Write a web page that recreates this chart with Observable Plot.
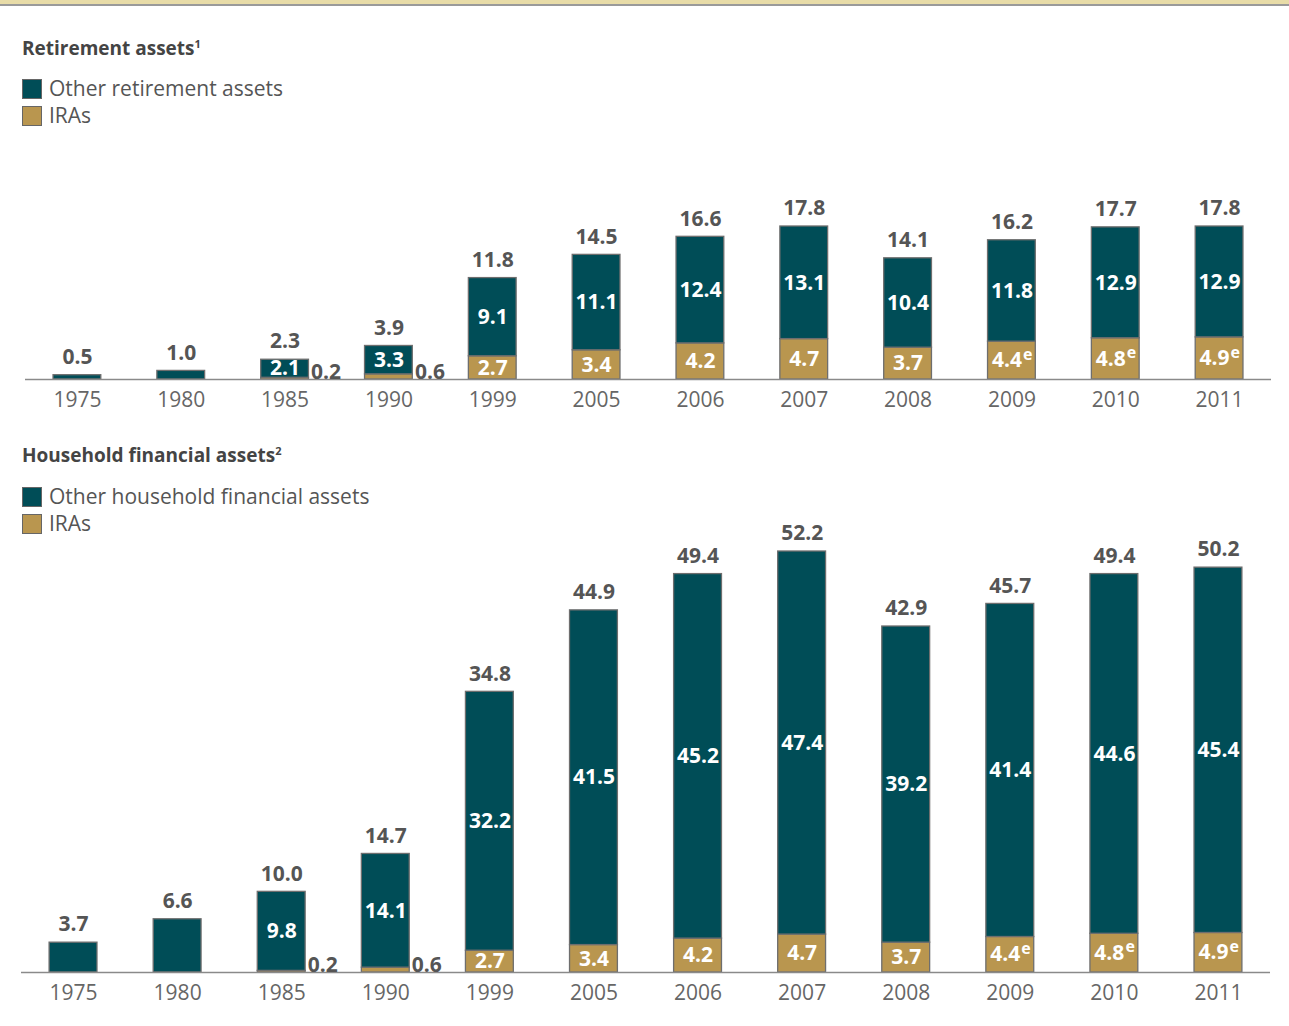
<!DOCTYPE html>
<html><head><meta charset="utf-8">
<script src="https://cdn.jsdelivr.net/npm/d3@7"></script>
<script src="https://cdn.jsdelivr.net/npm/@observablehq/plot@0.6"></script>
<style>
body{margin:0;background:#fff;font-family:"Open Sans",sans-serif;}
#wrap{position:relative;width:1289px;height:1026px;overflow:hidden;background:#fff}
.topbar{position:absolute;left:0;top:0;width:1289px;height:4px;background:#E8DCA8;border-bottom:2px solid #9a9a9a}
.title{position:absolute;left:22px;font-weight:700;font-size:19px;color:#444;line-height:24px}
.title sup{font-size:11px;vertical-align:7px;line-height:0}
.leg{position:absolute;left:22px;font-size:21px;color:#555;display:flex;align-items:center;height:27px;line-height:27px}
.sw{width:18px;height:18px;border:1px solid #666;margin-right:7px}
.chart{position:absolute;left:0}
</style></head>
<body><div id="wrap">
<div class="topbar"></div>
<div class="title" style="top:36px">Retirement assets<sup>1</sup></div>
<div class="leg" style="top:75px"><div class="sw" style="background:#004D57"></div>Other retirement assets</div>
<div class="leg" style="top:102px"><div class="sw" style="background:#B9964F"></div>IRAs</div>
<div class="chart" id="c1" style="top:180px"></div>
<div class="title" style="top:443px">Household financial assets<sup>2</sup></div>
<div class="leg" style="top:483px"><div class="sw" style="background:#004D57"></div>Other household financial assets</div>
<div class="leg" style="top:510px"><div class="sw" style="background:#B9964F"></div>IRAs</div>
<div class="chart" id="c2" style="top:500px"></div>
</div>
<script>
const years = ["1975","1980","1985","1990","1999","2005","2006","2007","2008","2009","2010","2011"];
const iras = [null, null, 0.2, 0.6, 2.7, 3.4, 4.2, 4.7, 3.7, 4.4, 4.8, 4.9];
const estimated = ["2009","2010","2011"];
const otherRetirement = [0.5, 1.0, 2.1, 3.3, 9.1, 11.1, 12.4, 13.1, 10.4, 11.8, 12.9, 12.9];
const totalRetirement = [0.5, 1.0, 2.3, 3.9, 11.8, 14.5, 16.6, 17.8, 14.1, 16.2, 17.7, 17.8];
const otherHousehold = [3.7, 6.6, 9.8, 14.1, 32.2, 41.5, 45.2, 47.4, 39.2, 41.4, 44.6, 45.4];
const totalHousehold = [3.7, 6.6, 10.0, 14.7, 34.8, 44.9, 49.4, 52.2, 42.9, 45.7, 49.4, 50.2];

const TEAL = "#004D57", GOLD = "#B9964F", EDGE = "#6e6e6e";
const FONT = "'Open Sans', sans-serif";

function chart(other, total, o) {
  const rows = years.map((y, i) => ({year: y, ira: iras[i] || 0, other: other[i], total: total[i], est: estimated.includes(y)}));
  const stacked = rows.filter(d => d.ira > 0);
  const big = stacked.filter(d => d.ira >= 1 && !d.est);
  const bigEst = stacked.filter(d => d.ira >= 1 && d.est);
  const small = stacked.filter(d => d.ira < 1);
  const fmt = v => v.toFixed(1);
  return Plot.plot({
    width: 1289, height: o.height,
    marginTop: o.mt, marginBottom: o.mb, marginLeft: o.ml, marginRight: o.mr,
    style: {fontFamily: FONT, fontSize: "21px", color: "#666", background: "transparent", overflow: "visible"},
    x: {domain: years, type: "band", round: false, paddingInner: 0.54, paddingOuter: 0.27, label: null, tickSize: 0, tickPadding: 13},
    y: {domain: [0, d3.max(total)], axis: null},
    marks: [
      Plot.barY(stacked, {x: "year", y1: 0, y2: "ira", fill: GOLD, stroke: EDGE, strokeWidth: 1.3}),
      Plot.barY(rows, {x: "year", y1: "ira", y2: "total", fill: TEAL, stroke: EDGE, strokeWidth: 1.3}),
      Plot.ruleY([0], {stroke: "#8a8a8a", strokeWidth: 1.5}),
      Plot.text(rows, {x: "year", y: "total", text: d => fmt(d.total), lineAnchor: "middle", dy: -18, fill: "#555", fontWeight: 700, fontSize: 21}),
      Plot.text(stacked, {x: "year", y: d => (d.ira + d.total) / 2, text: d => fmt(d.other), lineAnchor: "middle", fill: "#fff", fontWeight: 700, fontSize: 21}),
      Plot.text(big, {x: "year", y: d => d.ira / 2, text: d => fmt(d.ira), lineAnchor: "middle", fill: "#fff", fontWeight: 700, fontSize: 21}),
      Plot.text(bigEst, {x: "year", y: d => d.ira / 2, text: d => fmt(d.ira), textAnchor: "end", lineAnchor: "middle", dx: 10, fill: "#fff", fontWeight: 700, fontSize: 21}),
      Plot.text(bigEst, {x: "year", y: d => d.ira / 2, text: () => "e", textAnchor: "start", lineAnchor: "middle", dx: 11, dy: -6, fill: "#fff", fontWeight: 700, fontSize: 16}),
      Plot.text(small, {x: "year", y: 0, text: d => fmt(d.ira), textAnchor: "start", lineAnchor: "bottom", dx: 26, dy: -1, fill: "#555", fontWeight: 700, fontSize: 21})
    ]
  });
}

document.getElementById("c1").append(chart(otherRetirement, totalRetirement, {height: 240, mt: 46, mb: 41, ml: 25, mr: 18}));
document.getElementById("c2").append(chart(otherHousehold, totalHousehold, {height: 526, mt: 51, mb: 54, ml: 21, mr: 19}));
</script>
</body></html>
